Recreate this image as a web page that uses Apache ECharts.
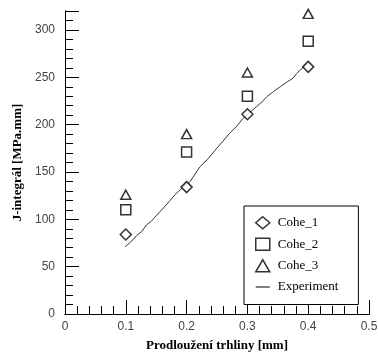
<!DOCTYPE html>
<html><head><meta charset="utf-8">
<script src="https://cdn.jsdelivr.net/npm/echarts@6/dist/echarts.min.js"></script>
<style>html,body{margin:0;padding:0;background:#fff}#c{width:378px;height:353px}</style>
</head><body><div id="c"></div>
<script>
const xValues = [0.1, 0.2, 0.3, 0.4];
const cohe1 = [84, 134, 211, 261];
const cohe2 = [110, 171, 230, 288];
const cohe3 = [126, 190, 255, 317];
const experiment = [[0.099,71],[0.108,76],[0.118,83],[0.126,87],[0.134,94],[0.142,98],[0.151,104.5],[0.162,112],[0.173,120],[0.181,126],[0.189,131],[0.198,136],[0.206,140],[0.214,148],[0.222,155.5],[0.234,163],[0.247,173],[0.259,182],[0.271,191],[0.282,198],[0.293,206.6],[0.304,213],[0.315,219],[0.324,224],[0.332,229.5],[0.343,235],[0.354,240],[0.365,245],[0.375,249],[0.381,254],[0.387,257.7],[0.397,263]];
const seriesNames = ['Cohe_1', 'Cohe_2', 'Cohe_3', 'Experiment'];
const xTitle = 'Prodloužení trhliny [mm]';
const yTitle = 'J-integrál [MPa.mm]';

const chart = echarts.init(document.getElementById('c'));
const lineStyle = {color: '#000', width: 1};
const tickLabel = {color: '#444', fontFamily: 'Liberation Sans', fontSize: 12};
const titleFont = {fontFamily: 'Liberation Serif', fontWeight: 'bold', fontSize: 13, color: '#000'};
const markStyle = {color: '#fff', borderColor: '#000', borderWidth: 1.5};
function pts(ys){ return xValues.map((x,i)=>[x, ys[i]]); }

const gridPos = {left: 65, right: 9, top: 11, bottom: 39, containLabel: false, outerBoundsMode: 'none'};
const X = {min: 0, max: 0.5, interval: 0.1, type: 'value'};
const Y = {min: 0, max: 320, type: 'value'};
// tick-only axis: shifted inward by its tick length, ticks drawn outward back to the frame
function tickX(grid, pos, len, minor) {
  return Object.assign({gridIndex: grid, position: pos, offset: -len,
    axisLine: {show: false}, axisTick: {show: true, inside: false, length: len, lineStyle},
    minorTick: {show: !!minor, splitNumber: 5, length: len, lineStyle},
    axisLabel: {show: false}, splitLine: {show: false}}, X);
}
function tickY(grid, pos, len, interval) {
  return Object.assign({gridIndex: grid, position: pos, offset: -len, interval: interval,
    axisLine: {show: false}, axisTick: {show: true, inside: false, length: len, lineStyle},
    axisLabel: {show: false}, splitLine: {show: false}}, Y);
}

chart.setOption({
  animation: false,
  grid: [Object.assign({}, gridPos), Object.assign({}, gridPos), Object.assign({}, gridPos)],
  xAxis: [
    Object.assign({gridIndex: 0, position: 'bottom',
     name: xTitle, nameLocation: 'middle', nameGap: 25, nameTextStyle: titleFont,
     axisLine: {lineStyle}, axisTick: {show: false},
     axisLabel: Object.assign({margin: 7}, tickLabel), splitLine: {show: false}}, X),
    Object.assign({gridIndex: 0, position: 'top',
     axisLine: {lineStyle}, axisTick: {show: false},
     axisLabel: {show: false}, splitLine: {show: false}}, X),
    tickX(1, 'bottom', 7, false),
    tickX(1, 'top', 7, false),
    tickX(2, 'bottom', 4, true),
    tickX(2, 'top', 4, true)
  ],
  yAxis: [
    Object.assign({gridIndex: 0, position: 'left', interval: 50,
     name: yTitle, nameLocation: 'middle', nameGap: 40, nameTextStyle: titleFont,
     axisLine: {lineStyle}, axisTick: {show: false},
     axisLabel: Object.assign({margin: 10, formatter: v => (v % 50 === 0 ? String(v) : '')}, tickLabel),
     splitLine: {show: false}}, Y),
    Object.assign({gridIndex: 0, position: 'right', interval: 50,
     axisLine: {lineStyle}, axisTick: {show: false},
     axisLabel: {show: false}, splitLine: {show: false}}, Y),
    tickY(1, 'left', 7, 50),
    tickY(1, 'right', 7, 50),
    tickY(2, 'left', 4, 10),
    tickY(2, 'right', 4, 10)
  ],
  legend: {
    orient: 'vertical', left: 244, top: 206,
    padding: [10, 20, 11, 11], itemGap: 8, itemWidth: 14, itemHeight: 12,
    borderColor: '#000', borderWidth: 1, backgroundColor: '#fff',
    textStyle: {fontFamily: 'Liberation Serif', fontSize: 13, color: '#000', padding: [0, 0, 0, 3]},
    data: [
      {name: seriesNames[0], icon: 'diamond', itemStyle: markStyle},
      {name: seriesNames[1], icon: 'rect', itemStyle: markStyle},
      {name: seriesNames[2], icon: 'triangle', itemStyle: markStyle},
      {name: seriesNames[3], itemStyle: {color: 'rgba(0,0,0,0)', borderWidth: 0, opacity: 0}, lineStyle: {color: '#000', width: 1}}
    ]
  },
  series: [
    {name: seriesNames[3], type: 'line', data: experiment, symbol: 'none', showSymbol: false, smooth: false,
     lineStyle: {color: '#333', width: 1}, itemStyle: {color: '#333'}, z: 1},
    {name: seriesNames[0], type: 'scatter', data: pts(cohe1), symbol: 'diamond', symbolSize: [11, 11], itemStyle: markStyle, z: 3},
    {name: seriesNames[1], type: 'scatter', data: pts(cohe2), symbol: 'rect', symbolSize: 10, itemStyle: markStyle, z: 3},
    {name: seriesNames[2], type: 'scatter', data: pts(cohe3), symbol: 'triangle', symbolSize: [10, 9], itemStyle: markStyle, z: 3}
  ]
});
</script></body></html>
